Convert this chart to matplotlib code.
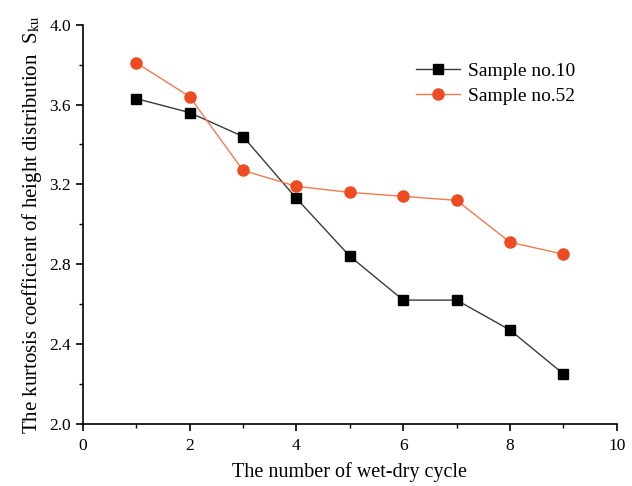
import matplotlib
matplotlib.use("Agg")
import matplotlib.pyplot as plt
from matplotlib.ticker import MultipleLocator

plt.rcParams['font.family'] = ['Liberation Serif', 'DejaVu Serif']
plt.rcParams['mathtext.fontset'] = 'stix'

# wet-dry cycles
cycles = [1, 2, 3, 4, 5, 6, 7, 8, 9]
# kurtosis coefficient Sku
sku_10 = [3.63, 3.56, 3.44, 3.13, 2.84, 2.62, 2.62, 2.47, 2.25]
sku_52 = [3.81, 3.64, 3.27, 3.19, 3.16, 3.14, 3.12, 2.91, 2.85]

fig = plt.figure(figsize=(6.32, 4.86), dpi=100)
ax = fig.add_axes([0.131, 0.128, 0.845, 0.821])

ax.plot(cycles, sku_10, color='#3a3a3a', lw=1.0, marker='s', ms=7,
        mfc='black', mec='black', label='Sample no.10')
ax.plot(cycles, sku_52, color='#f47a50', lw=1.0, marker='o', ms=8,
        mfc='#ee4b22', mec='#ee4b22', label='Sample no.52')

ax.set_xlim(0, 10)
ax.set_ylim(2.0, 4.0)
ax.xaxis.set_major_locator(MultipleLocator(2))
ax.xaxis.set_minor_locator(MultipleLocator(1))
ax.yaxis.set_major_locator(MultipleLocator(0.4))
ax.yaxis.set_minor_locator(MultipleLocator(0.2))
ax.yaxis.set_major_formatter(plt.FuncFormatter(lambda v, p: f'{v:.1f}'))

for s in ['top', 'right']:
    ax.spines[s].set_visible(False)
for s in ['left', 'bottom']:
    ax.spines[s].set_linewidth(1.2)
ax.tick_params(which='major', direction='out', length=5, width=1.2, labelsize=12.5)
ax.tick_params(axis='x', which='major', pad=5)
ax.tick_params(which='minor', direction='out', length=3, width=1.0)

ax.set_xlabel('The number of wet-dry cycle', fontsize=14.5, labelpad=6)
ax.set_ylabel('The kurtosis coefficient of height distribution  S$_{\\mathrm{ku}}$',
              fontsize=15, labelpad=4)

ax.legend(loc='upper right', bbox_to_anchor=(0.955, 0.95), frameon=False, fontsize=14,
          handlelength=2.3, handletextpad=0.4, labelspacing=0.4)

fig.savefig('out.png', dpi=100)
